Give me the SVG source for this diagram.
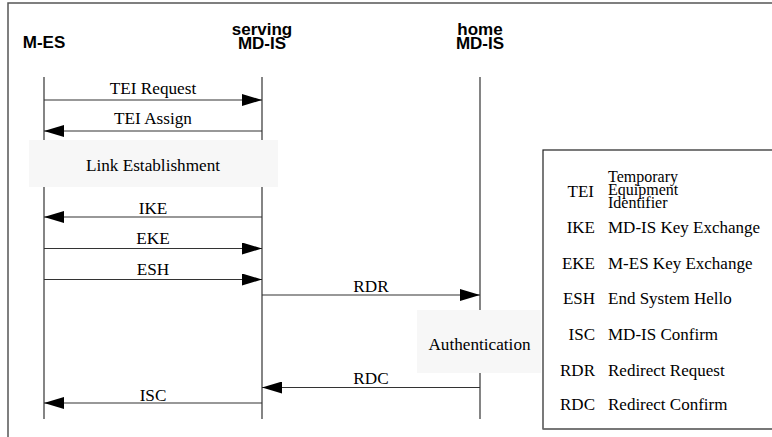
<svg xmlns="http://www.w3.org/2000/svg" width="772" height="437" viewBox="0 0 772 437">
<style>
.hdr{font-family:"Liberation Sans",Arial,sans-serif;font-weight:bold;font-size:17px;fill:#000;text-anchor:middle}
.lbl{font-family:"Liberation Serif","Times New Roman",serif;font-size:17.2px;fill:#000;text-anchor:middle}
.abbr{font-family:"Liberation Serif","Times New Roman",serif;font-size:17px;fill:#000;text-anchor:end}
.desc{font-family:"Liberation Serif","Times New Roman",serif;font-size:17px;fill:#000;text-anchor:start}
.tiny{font-family:"Liberation Serif","Times New Roman",serif;font-size:16px;fill:#000;text-anchor:start}
.life{stroke:#333;stroke-width:1.2;fill:none}
.msg{stroke:#333;stroke-width:1.2;fill:none}
.box{fill:#f7f7f7;stroke:none}
</style>
<defs>
<marker id="ah" viewBox="0 0 20 12" refX="20" refY="6" markerWidth="20" markerHeight="12" markerUnits="userSpaceOnUse" orient="auto">
<path d="M0,0 L20,6 L0,12 Z" fill="#000"/>
</marker>
</defs>
<rect x="0" y="0" width="772" height="437" fill="#fff"/>
<rect x="8" y="3" width="800" height="500" fill="none" stroke="#555" stroke-width="1.5"/>

<g id="lifelines">
<line class="life" x1="44" y1="77" x2="44" y2="419"/>
<line class="life" x1="262" y1="77" x2="262" y2="419"/>
<line class="life" x1="480" y1="77" x2="480" y2="419"/>
</g>

<g id="node-mes"><text class="hdr" x="44" y="48">M-ES</text></g>
<g id="node-serving"><text class="hdr" x="262" y="35">serving</text><text class="hdr" x="262" y="49">MD-IS</text></g>
<g id="node-home"><text class="hdr" x="480" y="35">home</text><text class="hdr" x="480" y="49">MD-IS</text></g>

<g id="connectors">
<line class="msg" x1="44" y1="100" x2="262" y2="100" marker-end="url(#ah)"/>
<text class="lbl" x="153" y="94">TEI Request</text>
<line class="msg" x1="262" y1="131" x2="44" y2="131" marker-end="url(#ah)"/>
<text class="lbl" x="153" y="124">TEI Assign</text>
<line class="msg" x1="262" y1="217" x2="44" y2="217" marker-end="url(#ah)"/>
<text class="lbl" x="153" y="213.5">IKE</text>
<line class="msg" x1="44" y1="248.5" x2="262" y2="248.5" marker-end="url(#ah)"/>
<text class="lbl" x="153" y="244">EKE</text>
<line class="msg" x1="44" y1="279.5" x2="262" y2="279.5" marker-end="url(#ah)"/>
<text class="lbl" x="153" y="275">ESH</text>
<line class="msg" x1="262" y1="295" x2="480" y2="295" marker-end="url(#ah)"/>
<text class="lbl" x="371" y="291.5">RDR</text>
<line class="msg" x1="480" y1="387.5" x2="262" y2="387.5" marker-end="url(#ah)"/>
<text class="lbl" x="371" y="384">RDC</text>
<line class="msg" x1="262" y1="403" x2="44" y2="403" marker-end="url(#ah)"/>
<text class="lbl" x="153" y="400.5">ISC</text>
</g>

<g id="node-link">
<rect class="box" x="29" y="140" width="249" height="47"/>
<text class="lbl" x="153" y="170.5">Link Establishment</text>
</g>

<g id="node-auth">
<rect class="box" x="417" y="310" width="124" height="63"/>
<text class="lbl" x="479.5" y="350">Authentication</text>
</g>

<g id="node-legend">
<rect x="543" y="150" width="260" height="279" fill="#fff" stroke="#222" stroke-width="1.2"/>
<line x1="543" y1="429" x2="772" y2="429" stroke="#777" stroke-width="1.5"/>
<text class="abbr" x="594" y="197">TEI</text>
<text class="tiny" x="608" y="182">Temporary</text>
<text class="tiny" x="608" y="195">Equipment</text>
<text class="tiny" x="608" y="208">Identifier</text>
<text class="abbr" x="595" y="233">IKE</text>
<text class="desc" x="608" y="233">MD-IS Key Exchange</text>
<text class="abbr" x="595" y="268.5">EKE</text>
<text class="desc" x="608" y="268.5">M-ES Key Exchange</text>
<text class="abbr" x="595" y="304">ESH</text>
<text class="desc" x="608" y="304">End System Hello</text>
<text class="abbr" x="595" y="339.5">ISC</text>
<text class="desc" x="608" y="339.5">MD-IS Confirm</text>
<text class="abbr" x="595" y="375.5">RDR</text>
<text class="desc" x="608" y="375.5">Redirect Request</text>
<text class="abbr" x="595" y="410">RDC</text>
<text class="desc" x="608" y="410">Redirect Confirm</text>
</g>
</svg>
